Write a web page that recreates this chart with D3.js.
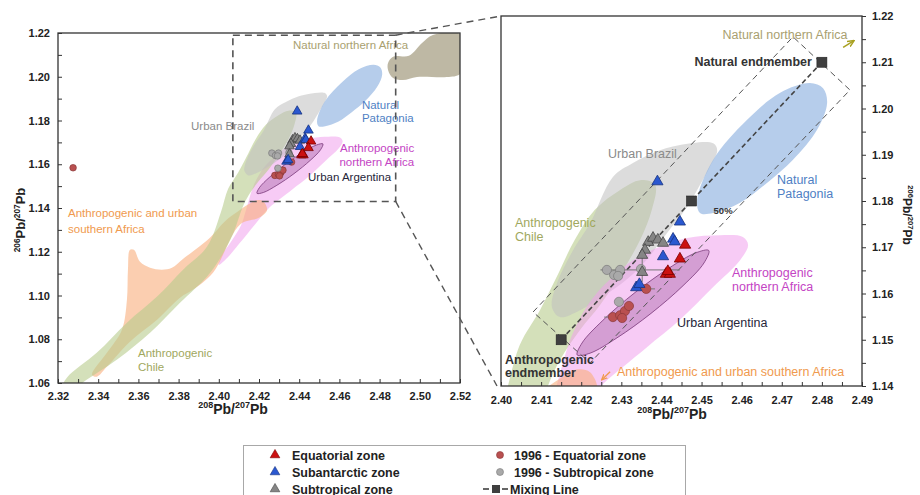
<!DOCTYPE html>
<html><head><meta charset="utf-8">
<script src="https://cdn.jsdelivr.net/npm/d3@7"></script>
<style>body{margin:0;background:#fff}svg{display:block}</style>
</head><body><svg id="c" width="920" height="495"></svg>
<script>
// ---------------- DATA ----------------
const equatorial   = [[2.4459,1.1705],[2.4446,1.1675],[2.4411,1.1642],[2.4421,1.1642],[2.4416,1.1648]];
const subantarctic = [[2.4390,1.1842],[2.4446,1.1755],[2.4429,1.1718],[2.4433,1.1712],[2.4404,1.1680],[2.4337,1.1613],[2.4345,1.1620]];
const subtropical  = [[2.4367,1.1711],[2.4379,1.1720],[2.4391,1.1716],[2.4404,1.1709],[2.4359,1.1694],[2.4352,1.1683],[2.4352,1.1646]];
const eq1996  = [[2.3275,1.1584],[2.4362,1.1610],[2.4279,1.1549],[2.4297,1.1553],[2.4309,1.1562],[2.4319,1.1573],[2.4302,1.1547]];
const sub1996 = [[2.4264,1.1651],[2.4282,1.1640],[2.4297,1.1651],[2.4292,1.1638],[2.4349,1.1653],[2.4294,1.1582]];
const xErrors = [[2.4347,1.1651,0.0099],[2.4362,1.1610,0.0022],[2.4279,1.1549,0.0022]];
const yErrors = [[2.4352,1.1655,0.0030]];
const mixingLine = [[2.415,1.150],[2.4475,1.180],[2.480,1.210]];
const mixingEnvelope = [[2.408,1.156],[2.4728,1.2155],[2.487,1.204],[2.4222,1.145]];

const regionNatNorthAfrica = [[2.4842,1.2063],[2.4867,1.2092],[2.4946,1.2096],[2.5011,1.2154],[2.5065,1.2191],[2.52,1.2195],[2.523,1.21],[2.52,1.2013],[2.5135,1.1999],[2.4986,1.1999],[2.4916,1.1985],[2.4867,1.1994],[2.4842,1.2031]];
const regionSouthAfrica = [[2.3369,1.0638],[2.3444,1.0739],[2.3518,1.0844],[2.3543,1.0981],[2.3548,1.1118],[2.3558,1.1209],[2.3578,1.1209],[2.3608,1.1154],[2.3658,1.1127],[2.3717,1.1118],[2.3767,1.1127],[2.3817,1.1164],[2.3882,1.1209],[2.3956,1.1264],[2.4031,1.1340],[2.4096,1.1385],[2.4150,1.1418],[2.4190,1.1436],[2.4222,1.1430],[2.4240,1.1390],[2.4200,1.1355],[2.4106,1.1325],[2.3971,1.1104],[2.3872,1.1027],[2.3807,1.0990],[2.3693,1.0889],[2.3558,1.0789],[2.3444,1.0675],[2.3394,1.0629]];
const regionChile = [[2.3225,1.0585],[2.3245,1.0625],[2.3394,1.0739],[2.3543,1.0876],[2.3693,1.0995],[2.3822,1.1118],[2.3941,1.1223],[2.4010,1.1380],[2.4047,1.1489],[2.4097,1.1564],[2.4135,1.1629],[2.4184,1.1716],[2.4234,1.1781],[2.4297,1.1824],[2.4347,1.1845],[2.4384,1.1835],[2.4376,1.1781],[2.4347,1.1716],[2.4297,1.1640],[2.4247,1.1575],[2.4197,1.1521],[2.4147,1.1456],[2.4117,1.1400],[2.4070,1.1280],[2.4000,1.1160],[2.3941,1.1086],[2.3807,1.0967],[2.3658,1.0830],[2.3494,1.0707],[2.3324,1.0602],[2.3270,1.0560]];
const regionBrazil = [[2.4529,1.1925],[2.4539,1.1910],[2.4521,1.1874],[2.4489,1.1824],[2.4464,1.1787],[2.4414,1.1731],[2.4347,1.1657],[2.4279,1.1608],[2.4197,1.1564],[2.4147,1.1549],[2.4127,1.1571],[2.4140,1.1623],[2.4180,1.1694],[2.4222,1.1752],[2.4279,1.1852],[2.4329,1.1882],[2.4379,1.1904],[2.4446,1.1921]];
const regionNorthAfrica = [[2.4239,1.1601],[2.4279,1.1636],[2.4329,1.1672],[2.4396,1.1701],[2.4464,1.1720],[2.4546,1.1726],[2.4603,1.1722],[2.4616,1.1705],[2.4596,1.1672],[2.4529,1.1614],[2.4446,1.1543],[2.4364,1.1484],[2.4304,1.1441],[2.4247,1.1398],[2.4180,1.1325],[2.4100,1.1235],[2.4040,1.1170],[2.4000,1.1140],[2.4010,1.1178],[2.4060,1.1245],[2.4110,1.1320],[2.4135,1.1390],[2.4172,1.1499],[2.4204,1.1558]];
const regionArgentina = [[2.4518,1.1693],[2.4506,1.1666],[2.4454,1.1617],[2.4374,1.1557],[2.4289,1.1504],[2.4222,1.1471],[2.4190,1.1467],[2.4202,1.1493],[2.4254,1.1542],[2.4334,1.1602],[2.4419,1.1655],[2.4486,1.1688]];
const regionPatagonia = [[2.4489,1.1802],[2.4529,1.1889],[2.4613,1.1975],[2.4696,1.2034],[2.4770,1.2055],[2.4803,1.2044],[2.4813,1.2012],[2.4788,1.1954],[2.4728,1.1889],[2.4663,1.1839],[2.4596,1.1796],[2.4529,1.1774],[2.4496,1.1774]];

const zoomBox = [2.407, 2.488, 1.143, 1.219];

const labelsLeft = [
 ['Natural northern Africa', 2.4369, 1.2127, 'nna'],
 ['Urban Brazil', 2.3862, 1.1757, 'bra'],
 ['Natural', 2.4712, 1.1853, 'pat'],
 ['Patagonia', 2.4712, 1.1794, 'pat'],
 ['Anthropogenic', 2.4603, 1.1657, 'naf'],
 ['northern Africa', 2.4600, 1.1593, 'naf'],
 ['Urban Argentina', 2.4444, 1.1524, 'arg'],
 ['Anthropogenic and urban', 2.3250, 1.1360, 'saf'],
 ['southern Africa', 2.3250, 1.1287, 'saf'],
 ['Anthropogenic', 2.3598, 1.0720, 'chi'],
 ['Chile', 2.3598, 1.0657, 'chi']
];
const labelsRight = [
 ['Natural northern Africa', 2.4708, 1.2150, 'nna', 'middle'],
 ['Natural endmember', 2.4775, 1.2092, 'end', 'end'],
 ['Urban Brazil', 2.4267, 1.1893, 'bra'],
 ['Natural', 2.4688, 1.1837, 'pat'],
 ['Patagonia', 2.4688, 1.1806, 'pat'],
 ['50%', 2.4530, 1.1771, 'pct'],
 ['Anthropogenic', 2.4035, 1.1744, 'chi'],
 ['Chile', 2.4035, 1.1714, 'chi'],
 ['Anthropogenic', 2.4576, 1.1636, 'naf'],
 ['northern Africa', 2.4576, 1.1605, 'naf'],
 ['Urban Argentina', 2.4439, 1.1528, 'arg'],
 ['Anthropogenic', 2.4010, 1.1448, 'end'],
 ['endmember', 2.4010, 1.1420, 'end'],
 ['Anthropogenic and urban southern Africa', 2.4289, 1.1422, 'saf']
];
const arrowNNA = [[2.4853,1.2132],[2.4879,1.2146]];
const arrowSAF = [[2.4272,1.1431],[2.4252,1.1414]];

const legendLabels = ['Equatorial zone','Subantarctic zone','Subtropical zone','1996 - Equatorial zone','1996 - Subtropical zone','Mixing Line'];

// ---------------- STYLE ----------------
const FONT = '"Liberation Sans", Arial, Helvetica, sans-serif';
const svg = d3.select('#c').style('font-family', FONT);
const defs = svg.append('defs');

const labelStyle = {
 nna:{fill:'#a99f70'}, bra:{fill:'#8a8a8a'}, pat:{fill:'#4f7fc4'}, naf:{fill:'#c444c4'},
 arg:{fill:'#26263a'}, saf:{fill:'#f09a4e'}, chi:{fill:'#9fa85e'}, end:{fill:'#333', weight:'bold'},
 pct:{fill:'#333', size:9.5, weight:'bold'}
};
const mk = {
 eq:{fill:'#cc1111', stroke:'#7a0000'},
 sa:{fill:'#2a58d0', stroke:'#17327f'},
 st:{fill:'#858585', stroke:'#454545'},
 eq96:{fill:'#b95050', stroke:'#8a3838'},
 st96:{fill:'#a9a9a9', stroke:'#7a7a7a'}
};

const regionSpecs = {
 nna:{pts:regionNatNorthAfrica, fill:'#b3ac94', op:0.85},
 saf:{pts:regionSouthAfrica, fill:'#f8b080', op:0.62},
 chi:{pts:regionChile, fill:'#b8cc8c', op:0.6},
 bra:{pts:regionBrazil, fill:'#c0c0c0', op:0.55},
 naf:{pts:regionNorthAfrica, fill:'#f0a0ec', op:0.55},
 arg:{pts:regionArgentina, fill:'#a05aa0', op:0.4, stroke:'#7a3a7a'},
 pat:{pts:regionPatagonia, fill:'#8fb2e0', op:0.65}
};

defs.append('marker').attr('id','arrOl').attr('viewBox','0 0 10 10').attr('refX',8).attr('refY',5)
 .attr('markerWidth',5).attr('markerHeight',5).attr('orient','auto')
 .append('path').attr('d','M0,1 L9,5 L0,9').attr('fill','none').attr('stroke','#a8a020').attr('stroke-width',2);
defs.append('marker').attr('id','arrOr').attr('viewBox','0 0 10 10').attr('refX',8).attr('refY',5)
 .attr('markerWidth',5).attr('markerHeight',5).attr('orient','auto')
 .append('path').attr('d','M0,1 L9,5 L0,9').attr('fill','none').attr('stroke','#f09a4e').attr('stroke-width',2);

function drawPanel(p){
  const x = p.x, y = p.y;
  const [x0,x1] = x.range(), [y0,y1] = y.range();
  defs.append('clipPath').attr('id','clip'+p.id).append('rect')
    .attr('x',x0).attr('y',y1).attr('width',x1-x0).attr('height',y0-y1);
  const g = svg.append('g').attr('clip-path',`url(#clip${p.id})`);
  const line = d3.line().x(d=>x(d[0])).y(d=>y(d[1])).curve(d3.curveCatmullRomClosed.alpha(0.5));
  p.order.forEach(k=>{
    const r = regionSpecs[k];
    g.append('path').attr('d',line(r.pts)).attr('fill',r.fill).attr('fill-opacity',r.op)
      .attr('stroke',r.stroke||'none').attr('stroke-width',1).attr('stroke-opacity',0.8);
  });
  if (p.id==='R'){
    g.append('path').attr('d',d3.line().x(d=>x(d[0])).y(d=>y(d[1]))(mixingEnvelope.concat([mixingEnvelope[0]])))
      .attr('fill','none').attr('stroke','#555').attr('stroke-width',1).attr('stroke-dasharray','6,4');
    g.append('path').attr('d',d3.line().x(d=>x(d[0])).y(d=>y(d[1]))(mixingLine))
      .attr('fill','none').attr('stroke','#444').attr('stroke-width',1.6).attr('stroke-dasharray','5,3');
    g.selectAll('rect.mix').data(mixingLine).join('rect').attr('class','mix')
      .attr('x',d=>x(d[0])-5).attr('y',d=>y(d[1])-5).attr('width',10).attr('height',10)
      .attr('fill','#3f3f3f').attr('stroke','#222').attr('stroke-width',0.6);
    g.selectAll('line.xe').data(xErrors).join('line').attr('class','xe')
      .attr('x1',d=>x(d[0]-d[2])).attr('x2',d=>x(d[0]+d[2])).attr('y1',d=>y(d[1])).attr('y2',d=>y(d[1]))
      .attr('stroke','#777').attr('stroke-width',1);
    g.selectAll('line.ye').data(yErrors).join('line').attr('class','ye')
      .attr('x1',d=>x(d[0])).attr('x2',d=>x(d[0])).attr('y1',d=>y(d[1]-d[2])).attr('y2',d=>y(d[1]+d[2]))
      .attr('stroke','#777').attr('stroke-width',1);
  }
  const circ = (data, st) => g.append('g').selectAll('circle').data(data).join('circle')
      .attr('cx',d=>x(d[0])).attr('cy',d=>y(d[1])).attr('r',p.circR)
      .attr('fill',st.fill).attr('stroke',st.stroke).attr('stroke-width',0.7);
  const tri = (data, st) => g.append('g').selectAll('path').data(data).join('path')
      .attr('transform',d=>`translate(${x(d[0])},${y(d[1])})`)
      .attr('d',d3.symbol(d3.symbolTriangle, p.triSize)())
      .attr('fill',st.fill).attr('stroke',st.stroke).attr('stroke-width',0.8);
  circ(eq1996, mk.eq96);
  circ(sub1996, mk.st96);
  tri(subtropical, mk.st);
  tri(subantarctic, mk.sa);
  tri(equatorial, mk.eq);

  const lg = svg.append('g');
  p.labels.forEach(l=>{
    const s = labelStyle[l[3]];
    lg.append('text').attr('x',x(l[1])).attr('y',y(l[2])).text(l[0])
      .attr('text-anchor',l[4]||'start').attr('fill',s.fill)
      .attr('font-size',s.size||p.labelSize).attr('font-weight',s.weight||'normal');
  });

  svg.append('rect').attr('x',x0).attr('y',y1).attr('width',x1-x0).attr('height',y0-y1)
    .attr('fill','none').attr('stroke','#333').attr('stroke-width',1.3);
}

function styleAxis(g){
  g.select('.domain').remove();
  g.attr('font-family',FONT).attr('font-size',11);
  g.selectAll('text').attr('font-weight','bold').attr('fill','#222');
  g.selectAll('line').attr('stroke','#333').attr('stroke-width',1);
}
const fmt = d3.format('.2f');

// ---------------- LEFT PANEL ----------------
const xL = d3.scaleLinear([2.32,2.52],[58,460]);
const yL = d3.scaleLinear([1.06,1.22],[383,33]);
drawPanel({id:'L', x:xL, y:yL, triSize:40, circR:3.3, labelSize:11.5, labels:labelsLeft,
  order:['nna','naf','saf','chi','bra','arg','pat']});
const lxT = d3.range(0,21).map(i=>+(2.32+i*0.01).toFixed(2));
svg.append('g').attr('transform',`translate(0,${yL(1.06)})`)
  .call(d3.axisBottom(xL).tickValues(lxT).tickSize(-4).tickPadding(9).tickFormat((d,i)=>i%2===0?fmt(d):''))
  .call(styleAxis);
const lyT = d3.range(0,17).map(i=>+(1.06+i*0.01).toFixed(2));
svg.append('g').attr('transform',`translate(${xL(2.32)},0)`)
  .call(d3.axisLeft(yL).tickValues(lyT).tickSize(-4).tickPadding(8).tickFormat((d,i)=>i%2===0?fmt(d):''))
  .call(styleAxis);

// ---------------- RIGHT PANEL ----------------
const xR = d3.scaleLinear([2.40,2.49],[501,862]);
const yR = d3.scaleLinear([1.14,1.22],[386,16]);
drawPanel({id:'R', x:xR, y:yR, triSize:54, circR:4.6, labelSize:12.5, labels:labelsRight,
  order:['chi','bra','naf','saf','arg','pat']});
const rxT = d3.range(0,19).map(i=>+(2.40+i*0.005).toFixed(3));
svg.append('g').attr('transform',`translate(0,${yR(1.14)})`)
  .call(d3.axisBottom(xR).tickValues(rxT).tickSize(-4).tickPadding(10).tickFormat((d,i)=>i%2===0?fmt(d):''))
  .call(styleAxis);
const ryT = d3.range(0,17).map(i=>+(1.14+i*0.005).toFixed(3));
svg.append('g').attr('transform',`translate(${xR(2.49)},0)`)
  .call(d3.axisRight(yR).tickValues(ryT).tickSize(4).tickPadding(6).tickFormat((d,i)=>i%2===0?fmt(d):''))
  .call(styleAxis);

svg.append('line').attr('x1',xR(arrowNNA[0][0])).attr('y1',yR(arrowNNA[0][1]))
  .attr('x2',xR(arrowNNA[1][0])).attr('y2',yR(arrowNNA[1][1]))
  .attr('stroke','#a8a020').attr('stroke-width',1.5).attr('marker-end','url(#arrOl)');
svg.append('line').attr('x1',xR(arrowSAF[0][0])).attr('y1',yR(arrowSAF[0][1]))
  .attr('x2',xR(arrowSAF[1][0])).attr('y2',yR(arrowSAF[1][1]))
  .attr('stroke','#f09a4e').attr('stroke-width',1.3).attr('marker-end','url(#arrOr)');

// ---------------- ZOOM BOX + CONNECTORS ----------------
const dash = '7,5';
svg.append('rect').attr('x',xL(zoomBox[0])).attr('y',yL(zoomBox[3]))
  .attr('width',xL(zoomBox[1])-xL(zoomBox[0])).attr('height',yL(zoomBox[2])-yL(zoomBox[3]))
  .attr('fill','none').attr('stroke','#555').attr('stroke-width',1.6).attr('stroke-dasharray',dash);
svg.append('line').attr('x1',xL(zoomBox[1])).attr('y1',yL(zoomBox[3])).attr('x2',xR(2.40)).attr('y2',yR(1.22))
  .attr('stroke','#555').attr('stroke-width',1.4).attr('stroke-dasharray',dash);
svg.append('line').attr('x1',xL(zoomBox[1])).attr('y1',yL(zoomBox[2])).attr('x2',xR(2.40)-4).attr('y2',yR(1.14))
  .attr('stroke','#555').attr('stroke-width',1.4).attr('stroke-dasharray',dash);

// ---------------- AXIS TITLES ----------------
function pbTitle(t, a, b, size){
  const sup = size*0.64, sh = size*0.4;
  t.append('tspan').attr('font-size',sup).attr('dy',-sh).text(a);
  t.append('tspan').attr('font-size',size).attr('dy',sh).text('Pb/');
  t.append('tspan').attr('font-size',sup).attr('dy',-sh).text(b);
  t.append('tspan').attr('font-size',size).attr('dy',sh).text('Pb');
}
function title(tr, a, b, size){
  const t = svg.append('text').attr('transform',tr).attr('text-anchor','middle')
    .attr('font-weight','bold').attr('fill','#222');
  pbTitle(t, a, b, size);
}
title(`translate(233,414)`, '208', '207', 14);
title(`translate(672,419)`, '208', '207', 14);
title(`translate(25,220) rotate(-90)`, '206', '207', 13);
title(`translate(903,215) rotate(90)`, '206', '207', 12);

// ---------------- LEGEND ----------------
const leg = svg.append('g');
leg.append('rect').attr('x',243.5).attr('y',445.5).attr('width',442).attr('height',70)
  .attr('fill','#fff').attr('stroke','#a8a8a8').attr('stroke-width',1);
const rowY = [455, 472, 489];
const legMk = [mk.eq, mk.sa, mk.st];
legendLabels.slice(0,3).forEach((lab,i)=>{
  leg.append('path').attr('transform',`translate(275,${rowY[i]})`).attr('d',d3.symbol(d3.symbolTriangle,40)())
    .attr('fill',legMk[i].fill).attr('stroke',legMk[i].stroke).attr('stroke-width',0.6);
  leg.append('text').attr('x',292).attr('y',rowY[i]+4.5).text(lab)
    .attr('font-size',12.5).attr('font-weight','bold').attr('fill','#222');
});
[mk.eq96, mk.st96].forEach((st,i)=>{
  leg.append('circle').attr('cx',500).attr('cy',rowY[i]).attr('r',3.5).attr('fill',st.fill).attr('stroke',st.stroke).attr('stroke-width',0.6);
  leg.append('text').attr('x',514).attr('y',rowY[i]+4.5).text(legendLabels[3+i])
    .attr('font-size',12.5).attr('font-weight','bold').attr('fill','#222');
});
[[483,489],[502,508]].forEach(s=>leg.append('line').attr('x1',s[0]).attr('x2',s[1]).attr('y1',rowY[2]).attr('y2',rowY[2])
  .attr('stroke','#333').attr('stroke-width',1.5));
leg.append('rect').attr('x',492).attr('y',rowY[2]-4).attr('width',8).attr('height',8).attr('fill','#3f3f3f');
leg.append('text').attr('x',510).attr('y',rowY[2]+4.5).text(legendLabels[5])
  .attr('font-size',12.5).attr('font-weight','bold').attr('fill','#222');
</script></body></html>
